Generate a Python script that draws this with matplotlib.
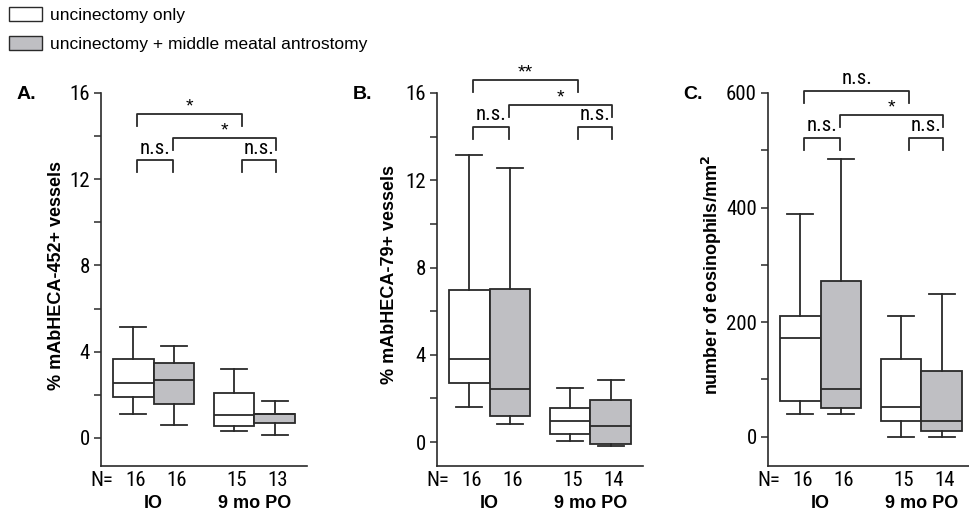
import matplotlib
matplotlib.use("Agg")
import matplotlib.pyplot as plt
from matplotlib.patches import Patch

plt.rcParams["font.family"] = ["Liberation Sans", "DejaVu Sans"]
narrow = ["Roboto Condensed", "Liberation Sans", "DejaVu Sans"]

# groups / sample sizes
groups = ["IO", "9 mo PO"]
legend_labels = ["uncinectomy only", "uncinectomy + middle meatal antrostomy"]
box_colors = ["white", "#bfbfc3"]

# panel A: % mAbHECA-452+ vessels
a_n = [16, 16, 15, 13]
a_low = [1.12, 0.62, 0.31, 0.12]
a_q1 = [1.91, 1.58, 0.56, 0.70]
a_med = [2.53, 2.71, 1.05, 1.10]
a_q3 = [3.67, 3.49, 2.09, 1.13]
a_high = [5.16, 4.26, 3.22, 1.71]
a_brackets = [(0, 2, 15.04, "*"), (1, 3, 13.92, "*"), (0, 1, 12.87, "n.s."), (2, 3, 12.87, "n.s.")]

# panel B: % mAbHECA-79+ vessels
b_n = [16, 16, 15, 14]
b_low = [1.59, 0.84, 0.06, -0.17]
b_q1 = [2.70, 1.17, 0.37, -0.09]
b_med = [3.80, 2.44, 0.95, 0.72]
b_q3 = [6.97, 7.00, 1.56, 1.94]
b_high = [13.18, 12.54, 2.47, 2.82]
b_brackets = [(0, 2, 16.58, "**"), (1, 3, 15.44, "*"), (0, 1, 14.44, "n.s."), (2, 3, 14.44, "n.s.")]

# panel C: eosinophils/mm2
c_n = [16, 16, 15, 14]
c_low = [39, 39, 0, 0]
c_q1 = [62, 51, 28, 10]
c_med = [172, 83, 52, 27]
c_q3 = [210, 272, 135, 115]
c_high = [389, 485, 211, 249]
c_brackets = [(0, 2, 604, "n.s."), (1, 3, 562, "*"), (0, 1, 522, "n.s."), (2, 3, 522, "n.s.")]

positions = [1, 2, 3.5, 4.5]
shift = [0.1, -0.02, 0.19, 0.03]
edge = "#2a2a2a"

fig = plt.figure(figsize=(9.69, 5.17), dpi=100)


def panel(left, letter, ylabel, ylab_x, n, low, q1, med, q3, high, brackets,
          ylim, major, minor):
    ax = fig.add_axes([left / 969, 1 - 466 / 517, 206 / 969, 373 / 517])
    stats = []
    for i in range(4):
        stats.append({"whislo": low[i], "q1": q1[i], "med": med[i],
                      "q3": q3[i], "whishi": high[i], "fliers": []})
    bp = ax.bxp(stats, positions=positions, widths=1.0, patch_artist=True,
                showfliers=False, capwidths=0.65,
                boxprops=dict(edgecolor=edge, linewidth=1.3),
                medianprops=dict(color=edge, linewidth=1.3),
                whiskerprops=dict(color=edge, linewidth=1.3),
                capprops=dict(color=edge, linewidth=1.3))
    for i, b in enumerate(bp["boxes"]):
        b.set_facecolor(box_colors[i % 2])

    ax.set_xlim(0.2, 5.3)
    ax.set_ylim(*ylim)
    ax.set_yticks(major)
    ax.set_yticks(minor, minor=True)
    ax.set_xticks([])
    for s in ["top", "right"]:
        ax.spines[s].set_visible(False)
    for s in ["left", "bottom"]:
        ax.spines[s].set_linewidth(1.2)
        ax.spines[s].set_color(edge)
    ax.tick_params(axis="y", which="both", length=5, width=1.1, color=edge, pad=3,
                   labelsize=15)
    for lbl in ax.get_yticklabels():
        lbl.set_family(narrow)

    # significance brackets
    leg = 0.032 * (ylim[1] - ylim[0])
    for i, j, lev, txt in brackets:
        x1 = positions[i] + shift[i]
        x2 = positions[j] + shift[j]
        ax.plot([x1, x1, x2, x2], [lev - leg, lev, lev, lev - leg], color=edge,
                lw=1.3, clip_on=False)
        if txt.startswith("n"):
            ax.annotate(txt, xy=((x1 + x2) / 2, lev), xytext=(0, 2),
                        textcoords="offset points", ha="center", va="bottom",
                        fontsize=15, family=narrow, annotation_clip=False)
        else:
            ax.annotate(txt, xy=((x1 + x2) / 2, lev), xytext=(0, -1),
                        textcoords="offset points", ha="center", va="bottom",
                        fontsize=14, annotation_clip=False)

    # N row and group labels
    tr = ax.get_xaxis_transform()
    ax.text(0.22, -0.04, "N=", transform=tr, ha="center", va="center",
            fontsize=15, family=narrow)
    for p, v in zip(positions, n):
        ax.text(p + 0.07, -0.04, str(v), transform=tr, ha="center", va="center",
                fontsize=15, family=narrow)
    ax.text(1.5, -0.1, groups[0], transform=tr, ha="center", va="center",
            fontsize=13, fontweight="bold")
    ax.text(4.0, -0.1, groups[1], transform=tr, ha="center", va="center",
            fontsize=13, fontweight="bold")

    fig.text(ylab_x / 969, 1 - 275 / 517, ylabel, rotation=90, ha="center",
             va="center", fontsize=13, fontweight="bold")
    fig.text((left - 75) / 969, 1 - 94 / 517, letter, ha="center", va="center",
             fontsize=14, fontweight="bold")
    return ax


panel(101, "A.", "% mAbHECA-452+ vessels", 57, a_n, a_low, a_q1, a_med, a_q3,
      a_high, a_brackets, (-1.3, 16), [0, 4, 8, 12, 16], [2, 6, 10, 14])
panel(437, "B.", "% mAbHECA-79+ vessels", 390, b_n, b_low, b_q1, b_med, b_q3,
      b_high, b_brackets, (-1.1, 16), [0, 4, 8, 12, 16], [2, 6, 10, 14])
panel(768, "C.", "number of eosinophils/mm$^\\mathbf{2}$", 712, c_n, c_low, c_q1,
      c_med, c_q3, c_high, c_brackets, (-51, 600), [0, 200, 400, 600], [100, 300, 500])

handles = [Patch(facecolor=c, edgecolor=edge, linewidth=1.0) for c in box_colors]
fig.legend(handles, legend_labels, loc="upper left", bbox_to_anchor=(-0.005, 1.013),
           frameon=False, fontsize=12.5, handlelength=1.9, handleheight=0.85,
           handletextpad=0.45, labelspacing=0.75, borderpad=0.3)

fig.savefig("out.png", dpi=100)
